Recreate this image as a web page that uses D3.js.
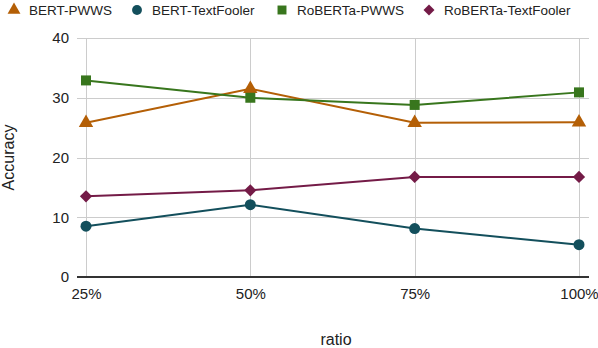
<!DOCTYPE html>
<html>
<head>
<meta charset="utf-8">
<script src="https://cdn.jsdelivr.net/npm/d3@7"></script>
<style>
  body { margin: 0; background: #fff; }
  text { font-family: "Liberation Sans", Arial, sans-serif; }
</style>
</head>
<body>
<div id="chart"></div>
<script>
const ratios = ["25%", "50%", "75%", "100%"];
const yTicks = [0, 10, 20, 30, 40];
const seriesNames = ["BERT-PWWS", "BERT-TextFooler", "RoBERTa-PWWS", "RoBERTa-TextFooler"];
const bertPwws = [25.8, 31.5, 25.8, 25.9];
const bertTextFooler = [8.5, 12.1, 8.1, 5.4];
const robertaPwws = [32.9, 30.0, 28.8, 30.9];
const robertaTextFooler = [13.5, 14.5, 16.75, 16.75];

const width = 598, height = 348;
const marginLeft = 77, marginRight = 9, marginTop = 38, marginBottom = 71;

const series = [
    {name: seriesNames[0], values: bertPwws, color: "#b45f06", symbol: d3.symbolTriangle, size: 90, rot: 0},
    {name: seriesNames[1], values: bertTextFooler, color: "#134f5c", symbol: d3.symbolCircle, size: 95, rot: 0},
    {name: seriesNames[2], values: robertaPwws, color: "#38761d", symbol: d3.symbolSquare, size: 100, rot: 0},
    {name: seriesNames[3], values: robertaTextFooler, color: "#741b47", symbol: d3.symbolSquare, size: 75, rot: 45}
];

const x = d3.scalePoint()
    .domain(ratios)
    .range([86, 579]);
const y = d3.scaleLinear()
    .domain([0, 40])
    .range([height - marginBottom, marginTop]);

const svg = d3.select("#chart").append("svg")
    .attr("width", width)
    .attr("height", height)
    .attr("viewBox", [0, 0, width, height]);

// grid
svg.append("g")
    .attr("stroke", "#cccccc")
    .attr("stroke-width", 1)
    .call(g => g.selectAll("line.h")
        .data(yTicks.filter(d => d > 0))
        .join("line")
        .attr("x1", marginLeft)
        .attr("x2", width - marginRight)
        .attr("y1", d => Math.round(y(d)) + 0.5)
        .attr("y2", d => Math.round(y(d)) + 0.5))
    .call(g => g.selectAll("line.v")
        .data(ratios)
        .join("line")
        .attr("x1", d => Math.round(x(d)) + 0.5)
        .attr("x2", d => Math.round(x(d)) + 0.5)
        .attr("y1", marginTop)
        .attr("y2", height - marginBottom));

// baseline
svg.append("line")
    .attr("x1", marginLeft)
    .attr("x2", width - marginRight)
    .attr("y1", y(0))
    .attr("y2", y(0))
    .attr("stroke", "#333")
    .attr("stroke-width", 2);

// y axis labels
svg.append("g")
    .attr("transform", `translate(${marginLeft - 8},0)`)
    .call(d3.axisLeft(y).tickValues(yTicks).tickSize(0).tickPadding(0))
    .call(g => g.select(".domain").remove())
    .call(g => g.selectAll("text")
        .attr("font-size", 15)
        .attr("fill", "#222")
        .attr("font-family", "Liberation Sans, Arial, sans-serif"));

// x axis labels
svg.append("g")
    .attr("transform", `translate(0,${height - marginBottom + 11})`)
    .call(d3.axisBottom(x).tickSize(0).tickPadding(0))
    .call(g => g.select(".domain").remove())
    .call(g => g.selectAll("text")
        .attr("font-size", 15)
        .attr("fill", "#222")
        .attr("font-family", "Liberation Sans, Arial, sans-serif"));

svg.append("text")
    .attr("x", 336)
    .attr("y", 345)
    .attr("text-anchor", "middle")
    .attr("font-size", 16)
    .attr("fill", "#222")
    .text("ratio");

svg.append("text")
    .attr("transform", `translate(14,${(marginTop + height - marginBottom) / 2}) rotate(-90)`)
    .attr("text-anchor", "middle")
    .attr("font-size", 16)
    .attr("fill", "#222")
    .text("Accuracy");

// lines and markers
const line = d3.line()
    .x((d, i) => x(ratios[i]))
    .y(d => y(d));

series.forEach(s => {
    svg.append("path")
        .datum(s.values)
        .attr("fill", "none")
        .attr("stroke", s.color)
        .attr("stroke-width", 2)
        .attr("d", line);
    svg.append("g")
        .selectAll("path")
        .data(s.values)
        .join("path")
        .attr("transform", (d, i) => `translate(${x(ratios[i])},${y(d)}) rotate(${s.rot})`)
        .attr("d", d3.symbol(s.symbol, s.size))
        .attr("fill", s.color);
});

// legend
const legendX = [14, 137, 282, 429];
const legend = svg.append("g")
    .selectAll("g")
    .data(series)
    .join("g")
    .attr("transform", (d, i) => `translate(${legendX[i]},10)`);
legend.append("path")
    .attr("transform", d => `rotate(${d.rot})`)
    .attr("d", d => d3.symbol(d.symbol, d.size * 0.8)())
    .attr("fill", d => d.color);
legend.append("text")
    .attr("x", 15)
    .attr("y", 5)
    .attr("font-size", 13.5)
    .attr("fill", "#222")
    .text(d => d.name);
</script>
</body>
</html>
